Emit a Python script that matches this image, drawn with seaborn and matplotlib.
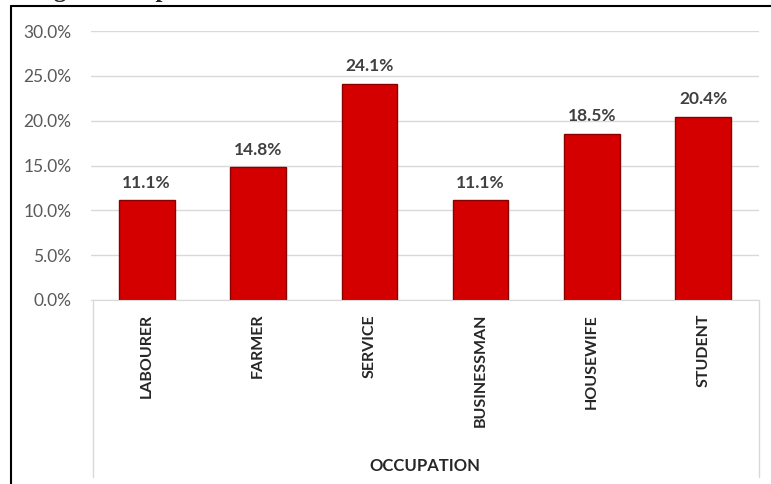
import matplotlib
matplotlib.use("Agg")
import matplotlib.pyplot as plt
import seaborn as sns
import pandas as pd
from matplotlib.lines import Line2D
from matplotlib.ticker import PercentFormatter

# data
occupations = ['LABOURER', 'FARMER', 'SERVICE', 'BUSINESSMAN', 'HOUSEWIFE', 'STUDENT']
percent = [11.1, 14.8, 24.1, 11.1, 18.5, 20.4]
y_ticks = [0, 5, 10, 15, 20, 25, 30]

df = pd.DataFrame({'Occupation': occupations, 'Percent': percent})

sns.set_style("white")
plt.rcParams['font.family'] = ['Lato', 'DejaVu Sans']

W, H = 771, 484
fig = plt.figure(figsize=(W / 100, H / 100), dpi=100)
left, right, top, bottom = 91, 759, 31, 300
ax = fig.add_axes([left / W, 1 - bottom / H, (right - left) / W, (bottom - top) / H])

sns.barplot(data=df, x='Occupation', y='Percent', color='#D40000',
            edgecolor='#8A0000', linewidth=1.0, width=0.5, saturation=1, ax=ax)

ax.set_ylim(0, 30)
ax.set_yticks(y_ticks)
ax.yaxis.set_major_formatter(PercentFormatter(decimals=1))
ax.grid(axis='y', color='#D9D9D9', linewidth=1)
ax.set_axisbelow(True)
for s in ['top', 'right', 'left']:
    ax.spines[s].set_visible(False)
ax.spines['bottom'].set_color('#D9D9D9')
ax.tick_params(axis='y', length=0, pad=14, labelsize=12.5, labelcolor='#595959')
ax.tick_params(axis='x', length=0, pad=10)
ax.set_xticks(range(len(occupations)))
ax.set_xticklabels(occupations, rotation=90, fontsize=11.5, fontweight='bold',
                   color='#262626', va='top')

ax.set_ylabel('')
ax.set_xlabel('OCCUPATION', fontsize=12, fontweight='bold', color='#262626')
ax.xaxis.set_label_coords(0.5, -(466 - bottom) / (bottom - top))
ax.xaxis.label.set_va('center')

for c in ax.containers:
    ax.bar_label(c, labels=[f'{v:.1f}%' for v in percent], padding=7,
                 fontsize=12.5, fontweight='bold', color='#404040')

# category area box lines
for xa in [0.003, 1.0]:
    ax.add_artist(Line2D([xa, xa], [0, -(477 - bottom) / (bottom - top)],
                         transform=ax.transAxes, color='#D9D9D9', lw=1, clip_on=False))

# outer frame of the figure
fig.add_artist(Line2D([11 / W, 11 / W], [0, 1 - 6 / H], color='black', lw=1.5))
fig.add_artist(Line2D([11 / W, 1], [1 - 6 / H, 1 - 6 / H], color='black', lw=1.5))

# title cut off at the top
fig.text(40 / W, 1 + 3 / H, 'ng to Occupation', fontsize=18, fontweight='bold',
         family=['Liberation Serif', 'DejaVu Serif'], va='baseline', ha='left')

fig.savefig('out.png', dpi=100)
